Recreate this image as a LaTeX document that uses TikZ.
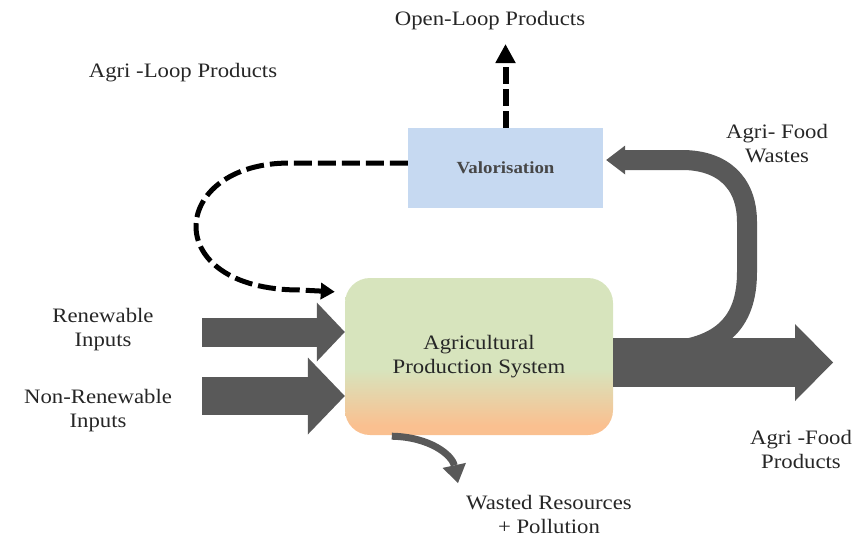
\documentclass[tikz,border=0pt]{standalone}
\usepackage{fontspec}
\setmainfont{Liberation Serif}[FakeStretch=1.11]
\usetikzlibrary{arrows.meta,calc}

\definecolor{valblue}{HTML}{C6D9F1}
\definecolor{apsgreen}{HTML}{D7E4BD}
\definecolor{apsorange}{HTML}{FAC090}
\definecolor{flowgray}{HTML}{595959}
\definecolor{textgray}{HTML}{262626}

% green on top fading into orange near the bottom of the production box
\pgfdeclareverticalshading{apsshade}{100bp}{color(0bp)=(apsorange); color(28bp)=(apsorange); color(46bp)=(apsgreen); color(100bp)=(apsgreen)}

\begin{document}
\begin{tikzpicture}[x=1pt,y=-1pt,
  lbl/.style={font=\fontsize{20.5}{24}\selectfont, text=textgray, align=center, inner sep=0pt},
  flow/.style={draw=flowgray, fill=flowgray, line width=#1},
  loopflow/.style={draw=black, line width=5pt, dash pattern=on 18pt off 6pt,
    -{Triangle[length=14pt,width=16pt]}},
  openflow/.style={draw=black, line width=6pt, dash pattern=on 17pt off 5pt,
    -{Triangle[length=19pt,width=19pt]}}
]
\useasboundingbox (0,0) rectangle (865,538);

% boxes
\node[fill=valblue, minimum width=195pt, minimum height=80pt, inner sep=0pt,
      font=\bfseries\fontsize{17}{20}\selectfont, text=textgray!85!white] (val) at (505.5,168) {Valorisation};
\node[rounded corners=25pt, shading=apsshade, minimum width=268pt, minimum height=157pt,
      inner sep=0pt, lbl] (aps) at (479,356.5) {Agricultural\\Production System};

% free ends of the flows
\coordinate (rin) at (202,332);
\coordinate (nin) at (202,396);
\coordinate (ol) at (505.5,44);
\coordinate (lp) at ([xshift=-10pt,yshift=-14pt]aps.north west);
\coordinate (aout) at (833,362.5);

% labels
\node[lbl] (ollbl) at (490,21) {Open-Loop Products};
\node[lbl] (allbl) at (183,73) {Agri -Loop Products};
\node[lbl] (fwlbl) at (777,144) {Agri- Food\\Wastes};
\node[lbl] (rlbl) at (103,330) {Renewable\\Inputs};
\node[lbl] (nlbl) at (98,411) {Non-Renewable\\Inputs};
\node[lbl] (fplbl) at (801,449) {Agri -Food\\Products};
\node[lbl] (wlbl) at (549,514) {Wasted Resources\\+ Pollution};

% inputs
\draw[flow=29pt, -{Triangle[length=28pt,width=59pt,line width=0pt]}] (rin) -- (aps.west |- rin);
\draw[flow=38pt, -{Triangle[length=37pt,width=77pt,line width=0pt]}] (nin) -- (aps.west |- nin);

% wastes looping back to valorisation
\draw[flow=20pt, fill=none, -{Triangle[length=19pt,width=29pt,line width=0pt]}]
  (650,352) .. controls (722,352) and (747,322) .. (747,272) -- (747,222)
  .. controls (747,182) and (722,160) .. (682,160) -- ([xshift=3pt,yshift=8pt]val.east);

% main product output
\draw[flow=49pt, -{Triangle[length=38pt,width=77pt,line width=0pt]}] ([yshift=-6pt]aps.east) -- (aout);

% wasted resources
\draw[flow=7pt, fill=none, -{Triangle[length=18pt,width=24pt,line width=0pt]}]
  ([xshift=47pt,yshift=-1pt]aps.south west) .. controls (430,437) and (452,455) .. (458,483);

% dashed loops
\draw[openflow] (val.north) -- (ol);
\draw[loopflow] ([yshift=5pt]val.west) -- (290,163) .. controls (168,163) and (158,290) .. (300,290) -- (lp);

\end{tikzpicture}
\end{document}
